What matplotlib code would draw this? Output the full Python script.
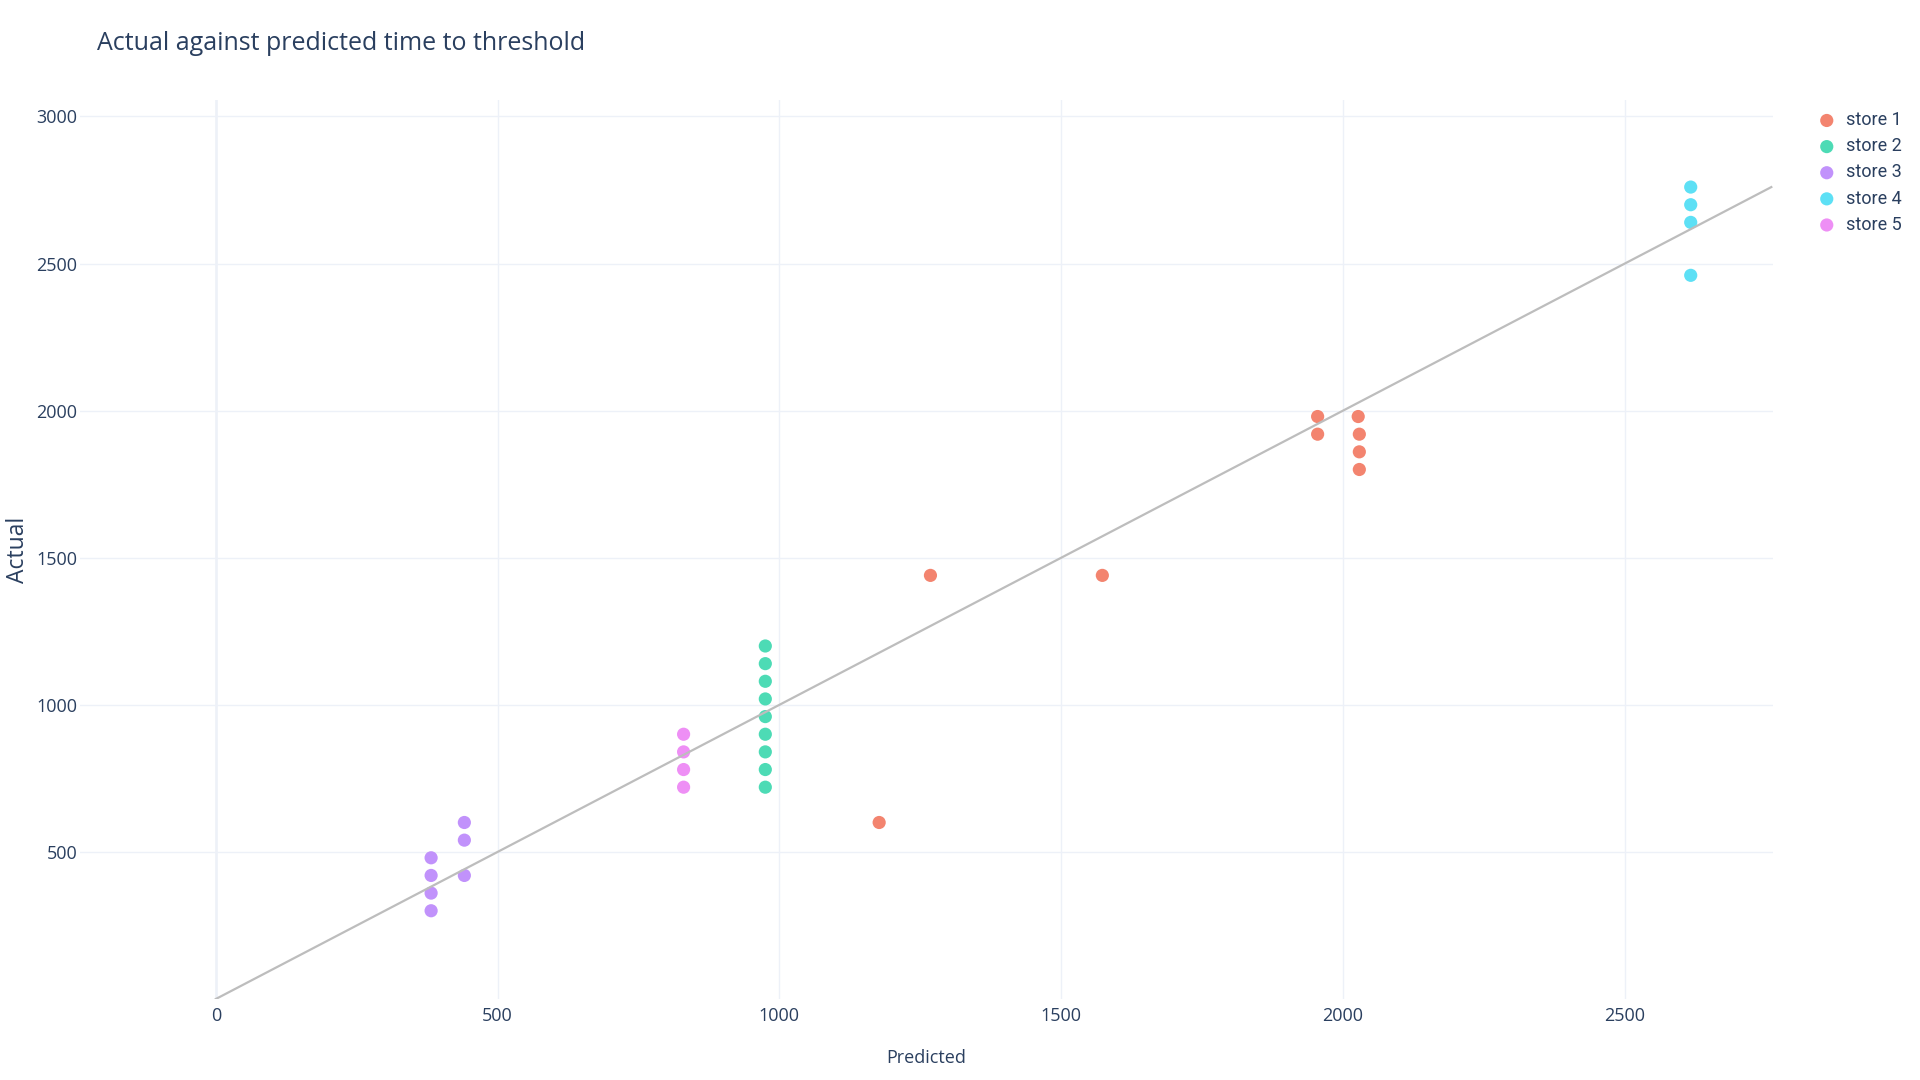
import numpy as np
import matplotlib
matplotlib.use('Agg')
import matplotlib.pyplot as plt

plt.rcParams['font.family'] = ['Open Sans', 'DejaVu Sans']

# predicted / actual per store
stores = ['store 1', 'store 2', 'store 3', 'store 4', 'store 5']
colors = ['#f3846f', '#4ddbb5', '#c192fb', '#5de0f5', '#ee8ff5']

pred_1 = [1177, 1268, 1573, 1955, 1955, 2027, 2029, 2029, 2029]
act_1 = [600, 1440, 1440, 1980, 1920, 1980, 1920, 1860, 1800]

pred_2 = [975] * 9
act_2 = [720, 780, 840, 900, 960, 1020, 1080, 1140, 1200]

pred_3 = [382, 382, 382, 382, 441, 441, 441]
act_3 = [480, 420, 360, 300, 600, 540, 420]

pred_4 = [2617, 2617, 2617, 2617]
act_4 = [2760, 2700, 2640, 2460]

pred_5 = [830, 830, 830, 830]
act_5 = [900, 840, 780, 720]

preds = [pred_1, pred_2, pred_3, pred_4, pred_5]
acts = [act_1, act_2, act_3, act_4, act_5]

# y = x reference line
line_x = [0, 2760]
line_y = [0, 2760]

txt = '#2a3f5f'
grid = '#edf1f8'

fig = plt.figure(figsize=(19.2, 10.8), dpi=100)
ax = fig.add_axes([80/1920, 1 - 999/1080, (1773-80)/1920, (999-100)/1080])

for name, c, p, a in zip(stores, colors, preds, acts):
	ax.scatter(p, a, s=90, color=c, edgecolors='none', label=name, zorder=3)

ax.plot(line_x, line_y, color='#bdbdbd', lw=1.6, zorder=4)

ax.set_xlim(-241, 2763)
ax.set_ylim(0, 3056)
ax.set_xticks([0, 500, 1000, 1500, 2000, 2500])
ax.set_yticks([500, 1000, 1500, 2000, 2500, 3000])
ax.grid(True, color=grid, lw=1.0, zorder=0)
ax.axvline(0, color=grid, lw=1.8, zorder=1)
for s in ax.spines.values():
	s.set_visible(False)
ax.tick_params(length=0, labelsize=13, labelcolor=txt)
ax.tick_params(axis='x', pad=6)
ax.tick_params(axis='y', pad=2)

fig.text(926/1920, 1 - 1058/1080, 'Predicted', ha='center', va='center', fontsize=13, color=txt)
fig.text(18/1920, 1 - 550/1080, 'Actual', ha='center', va='center', rotation=90, fontsize=16.5, color=txt)
fig.text(97/1920, 1 - 43/1080, 'Actual against predicted time to threshold', ha='left', va='center', fontsize=18, color=txt)

leg = ax.legend(loc='upper left', bbox_to_anchor=(1806/1920, 1 - 104/1080), bbox_transform=fig.transFigure,
	frameon=False, handletextpad=0.3, labelspacing=0.45, borderaxespad=0, handlelength=1.5,
	prop={'family': 'Roboto', 'size': 13})
for t in leg.get_texts():
	t.set_color(txt)

fig.savefig('out.png', dpi=100)
